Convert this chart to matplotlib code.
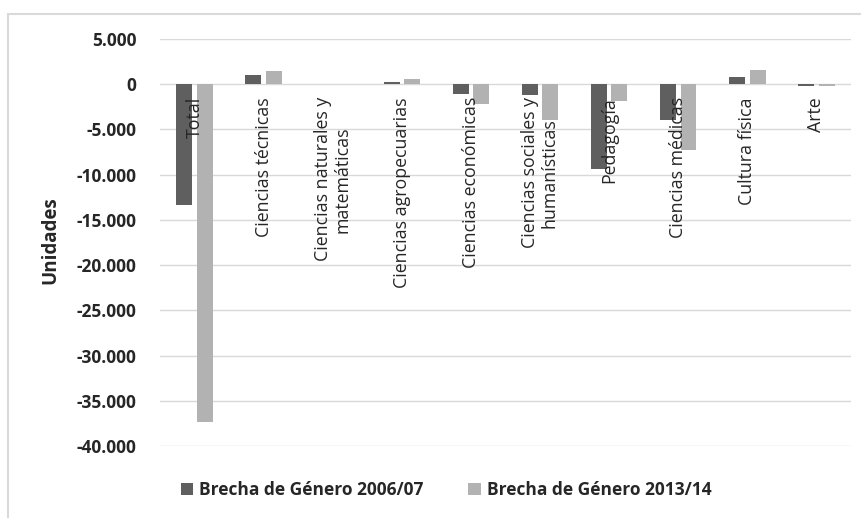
import matplotlib
matplotlib.use("Agg")
import matplotlib.pyplot as plt
from matplotlib.patches import Rectangle
from matplotlib.ticker import FuncFormatter
import numpy as np

categories = ["Total", "Ciencias técnicas", "Ciencias naturales y\nmatemáticas",
              "Ciencias agropecuarias", "Ciencias económicas",
              "Ciencias sociales y\nhumanísticas", "Pedagogía", "Ciencias médicas",
              "Cultura física", "Arte"]
series_2006 = [-13300, 1000, 0, 250, -1100, -1200, -9400, -4000, 850, -200]
series_2013 = [-37400, 1500, 0, 600, -2200, -4000, -1800, -7250, 1600, -200]
series_names = ["Brecha de Género 2006/07", "Brecha de Género 2013/14"]
yticks = [5000, 0, -5000, -10000, -15000, -20000, -25000, -30000, -35000, -40000]

plt.rcParams['font.family'] = ['Open Sans', 'DejaVu Sans']

W, H = 861, 518
fig = plt.figure(figsize=(W/100, H/100), dpi=100)
fig.patches.append(Rectangle((8/W, -0.1), 1.2, 1 - 14/H + 0.1, transform=fig.transFigure,
                             fill=False, edgecolor='#d9d9d9', linewidth=1.5))

ax = fig.add_axes([160/W, 1 - 446/H, (851-160)/W, (446-39)/H])
n = len(categories)
x = np.arange(n)
bw = 0.23
off = 0.148
c1, c2 = '#5f5f5f', '#b2b2b2'
ax.bar(x - off, series_2006, width=bw, color=c1, label=series_names[0], zorder=3)
ax.bar(x + off, series_2013, width=bw, color=c2, label=series_names[1], zorder=3)

ax.set_xlim(-0.5, n - 0.5)
ax.set_ylim(-40000, 5000)
ax.set_yticks(yticks)
ax.yaxis.set_major_formatter(FuncFormatter(lambda v, p: f"{int(v):,}".replace(",", ".")))
ax.grid(axis='y', color='#d9d9d9', linewidth=1, zorder=0)
ax.set_xticks([])
for s in ax.spines.values():
    s.set_visible(False)
ax.tick_params(axis='y', length=0, pad=17, labelsize=12.5)
for t in ax.get_yticklabels():
    t.set_fontweight('bold')
    t.set_color('#262626')

for i, lab in enumerate(categories):
    ax.annotate(lab, xy=(x[i], 0), xycoords='data', xytext=(0, -13), textcoords='offset pixels',
                rotation=90, ha='center', va='top', multialignment='center',
                fontsize=12.8, color='#262626', zorder=4, linespacing=1.08)

fig.text(50/W, 1 - 240/H, "Unidades", rotation=90, ha='center', va='center',
         fontsize=13.5, fontweight='bold', color='#262626')

leg = fig.legend(loc='center', bbox_to_anchor=(446/W, 1 - 490/H), ncol=2, frameon=False,
                 fontsize=12.5, handlelength=0.7, handleheight=0.7, handletextpad=0.35,
                 columnspacing=2.6)
for t in leg.get_texts():
    t.set_fontweight('bold')
    t.set_color('#262626')

fig.savefig("out.png", dpi=100)
